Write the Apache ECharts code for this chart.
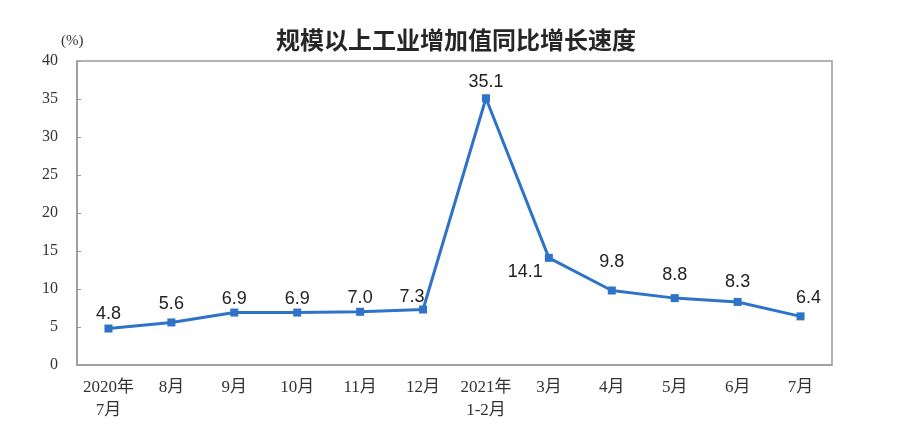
<!DOCTYPE html>
<html><head><meta charset="utf-8">
<script src="https://cdn.jsdelivr.net/npm/echarts@6/dist/echarts.min.js"></script>
<style>html,body{margin:0;padding:0;background:#fff}#c{width:912px;height:443px}</style>
</head><body><div id="c"></div>
<script>
const categories = ['2020年\n7月','8月','9月','10月','11月','12月','2021年\n1-2月','3月','4月','5月','6月','7月'];
const values = [4.8,5.6,6.9,6.9,7.0,7.3,35.1,14.1,9.8,8.8,8.3,6.4];
const yTicks = [0,5,10,15,20,25,30,35,40];
const titleText = '规模以上工业增加值同比增长速度';
const unitText = '(%)';

const chart = echarts.init(document.getElementById('c'));
// label nudges (styling only)
const labelNudge = [[0,4],[0,0],[0,4],[0,4],[0,4],[-11,6],[0,2],[3,14],[0,-10],[0,-5],[0,-2],[8,0]];
const seriesData = values.map((v,i)=>{
  const d = {value:v, label:{offset:labelNudge[i]}};
  if (i===7) d.label.position = 'left';
  return d;
});
chart.setOption({
  animation:false,
  backgroundColor:'#fff',
  title:{text:titleText,left:'center',top:23,textStyle:{fontFamily:'Noto Sans CJK SC',fontSize:24,fontWeight:'bold',color:'#262626'}},
  graphic:[{type:'text',left:61,top:34,style:{text:unitText,font:'15px "Liberation Serif"',fill:'#333'}}],
  grid:{left:77,right:80,top:61,bottom:78,show:true,borderColor:'#9a9a9a',borderWidth:1.5},
  xAxis:{type:'category',data:categories,boundaryGap:true,
    axisLine:{lineStyle:{color:'#9a9a9a',width:1.5}},
    axisTick:{inside:true,length:8,lineStyle:{color:'#9a9a9a'}},
    axisLabel:{fontFamily:'Liberation Serif, Noto Sans CJK SC',fontSize:17,color:'#333',margin:11,lineHeight:23,interval:0}},
  yAxis:{type:'value',min:yTicks[0],max:yTicks[yTicks.length-1],interval:5,
    axisLine:{show:true,lineStyle:{color:'#9a9a9a',width:1.5}},
    axisTick:{show:true,inside:true,length:4,lineStyle:{color:'#9a9a9a'}},
    splitLine:{show:false},
    axisLabel:{fontFamily:'Liberation Serif',fontSize:16,color:'#333',margin:19}},
  series:[{type:'line',data:seriesData,symbol:'rect',symbolSize:8,
    lineStyle:{color:'#2f73c8',width:3},itemStyle:{color:'#2f73c8'},
    label:{show:true,position:'top',distance:5,fontFamily:'Liberation Sans',fontSize:18,color:'#222',
      formatter:p=>p.value.toFixed(1)}}]
});
</script></body></html>
